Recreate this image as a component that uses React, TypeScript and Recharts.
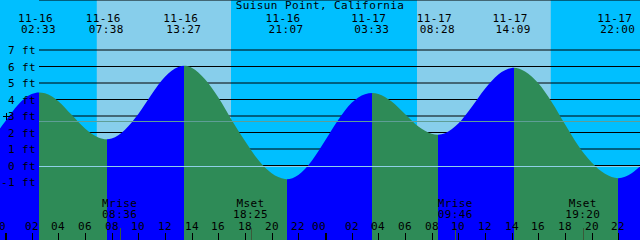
import { AreaChart, Area, XAxis, YAxis, CartesianGrid, ReferenceArea, ReferenceLine } from 'recharts';

const W = 640;
const H = 240;
const LABEL_W = 39;

const title = 'Suisun Point, California';
const days = ['11-16', '11-17'];

// tide extremes, alternating high / low
const extremeDays = ['11-16', '11-16', '11-16', '11-16', '11-17', '11-17', '11-17', '11-17'];
const extremeTimes = ['02:33', '07:38', '13:27', '21:07', '03:33', '08:28', '14:09', '22:00'];
const extremeKinds = ['high', 'low', 'high', 'low', 'high', 'low', 'high', 'low'];

// heights: hours since 11-16 00:00 -> feet
const tideHours = [
  -0.375, 0, 1, 2, 2.55, 3, 4, 5, 6, 7, 7.633, 8, 9, 10, 11, 12, 13, 13.45, 14, 15, 16, 17, 18, 19, 20, 21, 21.117,
  22, 23, 24, 25, 26, 27, 27.55, 28, 29, 30, 31, 32, 32.467, 33, 34, 35, 36, 37, 38, 38.15, 39, 40, 41, 42, 43, 44,
  45, 46, 47, 47.625,
];
const tideFeet = [
  2.24, 2.65, 3.7, 4.33, 4.43, 4.38, 3.9, 3.07, 2.24, 1.7, 1.59, 1.63, 2.17, 3.12, 4.32, 5.38, 5.97, 6.04, 5.93, 5.22,
  4.12, 2.76, 1.48, 0.33, -0.47, -0.82, -0.83, -0.57, 0.28, 1.5, 2.78, 3.8, 4.32, 4.39, 4.34, 3.88, 3.12, 2.36, 1.93,
  1.87, 1.96, 2.55, 3.55, 4.65, 5.52, 5.91, 5.92, 5.7, 4.98, 3.85, 2.5, 1.2, 0.18, -0.5, -0.77, -0.47, -0.04,
];

const sunriseTimes = ['06:53', '06:54'];
const sunsetTimes = ['16:57', '16:56'];

const moonDays = ['11-16', '11-16', '11-17', '11-17'];
const moonKinds = ['Mrise', 'Mset', 'Mrise', 'Mset'];
const moonTimes = ['08:36', '18:25', '09:46', '19:20'];

const feetTicks = [-1, 0, 1, 2, 3, 4, 5, 6, 7];
const hourTicks = [0, 2, 4, 6, 8, 10, 12, 14, 16, 18, 20, 22, 24, 26, 28, 30, 32, 34, 36, 38, 40, 42, 44, 46];
const meanLevel = 2.72;
const markLevel = 3;

const X_MIN = -0.375;
const X_MAX = 47.625;
const Y_MIN = -74.5 / 16.5;
const Y_MAX = 165.5 / 16.5;

const NIGHT = '#00bfff';
const DAY = '#87ceeb';
const FLOOD = '#0000ff';
const EBB = '#2e8b57';

const font = { fontFamily: '"DejaVu Sans Mono", monospace', fontSize: 11, letterSpacing: 0.4, fill: '#000' };

const toHour = (day: string, time: string) => {
  const [hh, mm] = time.split(':').map(Number);
  return days.indexOf(day) * 24 + hh + mm / 60;
};

const data = tideHours.map((h, i) => ({ h, ft: tideFeet[i] }));
const extremeHours = extremeTimes.map((t, i) => toHour(extremeDays[i], t));

// rising water is blue, falling water green; switch at each extreme
const fillStops: { offset: number; color: string }[] = [];
let prevOffset = 0;
extremeHours.forEach((h, i) => {
  const color = extremeKinds[i] === 'high' ? FLOOD : EBB;
  const offset = (h - X_MIN) / (X_MAX - X_MIN);
  fillStops.push({ offset: prevOffset, color }, { offset, color });
  prevOffset = offset;
});
const tailColor = extremeKinds[extremeKinds.length - 1] === 'high' ? EBB : FLOOD;
fillStops.push({ offset: prevOffset, color: tailColor }, { offset: 1, color: tailColor });

const HourTick = (props: any) => {
  const { x, payload } = props;
  const h = payload.value as number;
  const midnight = h % 24 === 0;
  const px = Math.round(x);
  const label = String(h % 24).padStart(2, '0');
  return (
    <g>
      <text x={midnight ? px - 6 : px} y={230} textAnchor="middle" {...font}>
        {label}
      </text>
      <line
        x1={midnight ? px + 1 : px + 0.5}
        x2={midnight ? px + 1 : px + 0.5}
        y1={233}
        y2={H}
        stroke="#000"
        strokeWidth={midnight ? 2 : 1}
      />
    </g>
  );
};

const FeetTick = (props: any) => {
  const { y, payload } = props;
  const v = payload.value as number;
  return (
    <g>
      <text x={36} y={y + 4} textAnchor="end" {...font}>
        {`${v} ft`}
      </text>
      {v === markLevel && (
        <g stroke="#000" strokeWidth={1}>
          <line x1={3} x2={10} y1={Math.round(y) + 0.5} y2={Math.round(y) + 0.5} />
          <line x1={6.5} x2={6.5} y1={Math.round(y) - 3} y2={Math.round(y) + 4} />
        </g>
      )}
    </g>
  );
};

const levelLine = (color: string) => (p: any) => (
  <line x1={LABEL_W} x2={p.x2} y1={Math.round(p.y1) + 0.5} y2={Math.round(p.y1) + 0.5} stroke={color} strokeWidth={1} />
);

const extremeLabel = (i: number) => (p: any) => (
  <g>
    <text x={p.x1 - 3.5} y={21.5} textAnchor="middle" {...font}>
      {extremeDays[i]}
    </text>
    <text x={p.x1 - 0.5} y={33} textAnchor="middle" {...font}>
      {extremeTimes[i]}
    </text>
  </g>
);

const moonMark = (i: number) => (p: any) => {
  const px = Math.round(p.x1) + 0.5;
  return (
    <g>
      <text x={p.x1} y={206.5} textAnchor="middle" {...font}>
        {moonKinds[i]}
      </text>
      <text x={p.x1} y={218} textAnchor="middle" {...font}>
        {moonTimes[i]}
      </text>
      <line x1={px} x2={px} y1={228} y2={H} stroke="#3a5a3a" strokeWidth={1} />
    </g>
  );
};

export default function App() {
  return (
    <div style={{ position: 'fixed', left: 0, top: 0, width: W, height: H, background: NIGHT, overflow: 'hidden' }}>
      <AreaChart width={W} height={H} data={data} margin={{ top: 0, right: 0, bottom: 0, left: 0 }}>
        <defs>
          <linearGradient id="tideFill" x1="0" y1="0" x2="1" y2="0">
            {fillStops.map((s, i) => (
              <stop key={i} offset={s.offset} stopColor={s.color} />
            ))}
          </linearGradient>
        </defs>
        {sunriseTimes.map((t, i) => (
          <ReferenceArea
            key={`day${i}`}
            x1={toHour(days[i], t)}
            x2={toHour(days[i], sunsetTimes[i])}
            fill={DAY}
            fillOpacity={1}
            stroke="none"
            zIndex={-200}
          />
        ))}
        <CartesianGrid
          vertical={false}
          stroke="#000"
          strokeDasharray=""
          x={LABEL_W}
          width={W - LABEL_W}
          horizontalPoints={undefined}
        />
        <Area
          dataKey="ft"
          type="monotone"
          stroke="none"
          fill="url(#tideFill)"
          fillOpacity={1}
          baseValue="dataMin"
          dot={false}
          activeDot={false}
          isAnimationActive={false}
        />
        <ReferenceLine y={meanLevel} shape={levelLine('#5e9e96')} zIndex={450} />
        <ReferenceLine y={0} shape={levelLine('#8fd0e8')} zIndex={450} />
        <XAxis
          type="number"
          dataKey="h"
          domain={[X_MIN, X_MAX]}
          ticks={hourTicks}
          interval={0}
          mirror
          axisLine={false}
          tickLine={false}
          tick={HourTick}
          allowDataOverflow
        />
        <YAxis
          type="number"
          domain={[Y_MIN, Y_MAX]}
          ticks={feetTicks}
          interval={0}
          mirror
          axisLine={false}
          tickLine={false}
          tick={FeetTick}
          allowDataOverflow
        />
        {extremeHours.map((h, i) => (
          <ReferenceLine key={`ex${i}`} x={h} shape={extremeLabel(i)} zIndex={600} />
        ))}
        {moonTimes.map((t, i) => (
          <ReferenceLine key={`moon${i}`} x={toHour(moonDays[i], t)} shape={moonMark(i)} zIndex={600} />
        ))}
      </AreaChart>
      <div
        style={{
          position: 'absolute',
          left: 0,
          top: 0,
          width: W,
          textAlign: 'center',
          ...{ fontFamily: font.fontFamily, fontSize: font.fontSize, letterSpacing: font.letterSpacing },
          lineHeight: '12px',
          color: '#000',
        }}
      >
        {title}
      </div>
    </div>
  );
}
